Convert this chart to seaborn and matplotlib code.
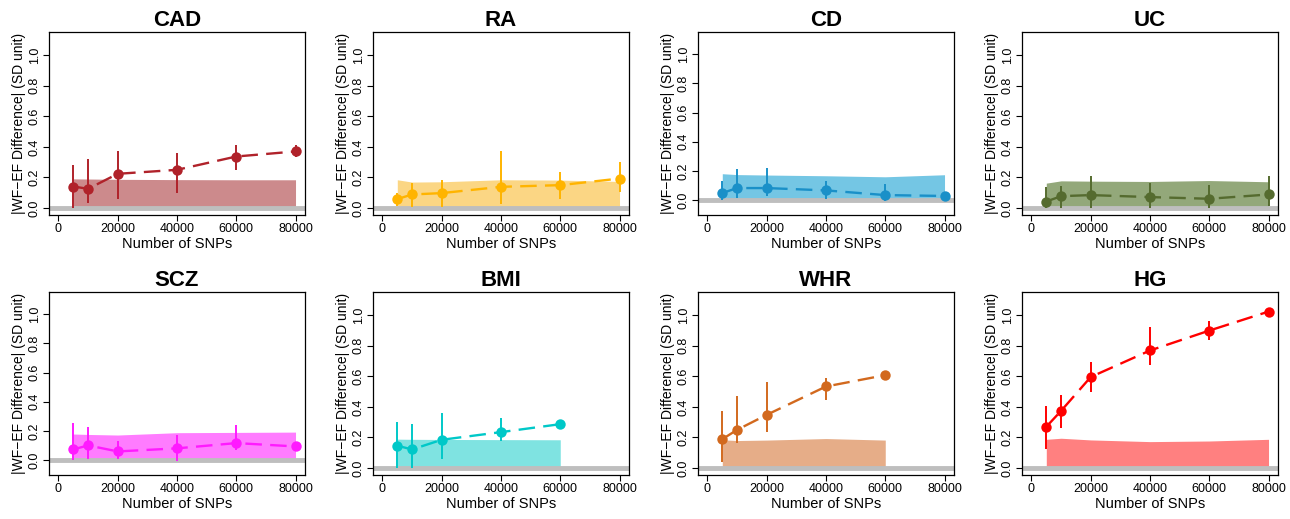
#!/usr/bin/env python3

import numpy as np
import pandas as pd
import matplotlib
matplotlib.use('Agg')
import matplotlib.pyplot as plt
import seaborn as sns

traits = ['CAD', 'RA', 'CD', 'UC', 'SCZ', 'BMI', 'WHR', 'HG']
colors = ['#B0222A', '#FFB400', '#1A90C8', '#556B2F', '#FF1AFF', '#00C8C8', '#D2691E', '#FF0000']
fills = ['#CC8A8C', '#FBD684', '#74C6E4', '#93A87A', '#FF7CFF', '#7FE3E1', '#E6AD88', '#FF8080']

snps_full = [5000, 10000, 20000, 40000, 60000, 80000]
snps_short = [5000, 10000, 20000, 40000, 60000]

cad_mean = [0.141, 0.126, 0.224, 0.250, 0.337, 0.370]
cad_lo = [0.000, 0.033, 0.061, 0.098, 0.250, 0.337]
cad_hi = [0.283, 0.320, 0.374, 0.363, 0.409, 0.413]
cad_band = [0.191, 0.190, 0.188, 0.186, 0.185, 0.185]

ra_mean = [0.059, 0.089, 0.098, 0.139, 0.150, 0.193]
ra_lo = [0.015, 0.010, 0.006, 0.028, 0.061, 0.104]
ra_hi = [0.098, 0.167, 0.185, 0.374, 0.239, 0.300]
ra_band = [0.185, 0.170, 0.172, 0.185, 0.183, 0.174]

cd_mean = [0.050, 0.084, 0.084, 0.068, 0.036, 0.030]
cd_lo = [0.000, 0.018, 0.030, 0.011, -0.005, 0.011]
cd_hi = [0.132, 0.216, 0.223, 0.132, 0.114, 0.052]
cd_band = [0.182, 0.176, 0.173, 0.168, 0.161, 0.175]

uc_mean = [0.043, 0.078, 0.085, 0.072, 0.061, 0.089]
uc_lo = [0.000, 0.000, 0.000, 0.000, 0.000, 0.017]
uc_hi = [0.135, 0.146, 0.211, 0.167, 0.150, 0.211]
uc_band = [0.163, 0.178, 0.176, 0.174, 0.180, 0.172]

scz_mean = [0.075, 0.102, 0.061, 0.082, 0.118, 0.095]
scz_lo = [0.000, 0.007, 0.007, -0.005, 0.068, 0.080]
scz_hi = [0.257, 0.230, 0.130, 0.170, 0.240, 0.110]
scz_band = [0.180, 0.177, 0.173, 0.189, 0.191, 0.193]

bmi_mean = [0.146, 0.122, 0.185, 0.235, 0.287]
bmi_lo = [0.000, 0.000, 0.061, 0.174, 0.254]
bmi_hi = [0.300, 0.289, 0.363, 0.324, 0.309]
bmi_band = [0.189, 0.188, 0.187, 0.186, 0.185]

whr_mean = [0.189, 0.250, 0.348, 0.533, 0.607]
whr_lo = [0.037, 0.163, 0.233, 0.446, 0.576]
whr_hi = [0.376, 0.472, 0.561, 0.587, 0.630]
whr_band = [0.185, 0.180, 0.183, 0.193, 0.183]

hg_mean = [0.270, 0.374, 0.595, 0.768, 0.898, 1.022]
hg_lo = [0.123, 0.260, 0.498, 0.671, 0.838, 1.010]
hg_hi = [0.405, 0.476, 0.693, 0.924, 0.963, 1.034]
hg_band = [0.188, 0.195, 0.184, 0.173, 0.177, 0.188]

panel_data = {
    'CAD': (snps_full, cad_mean, cad_lo, cad_hi, cad_band),
    'RA': (snps_full, ra_mean, ra_lo, ra_hi, ra_band),
    'CD': (snps_full, cd_mean, cd_lo, cd_hi, cd_band),
    'UC': (snps_full, uc_mean, uc_lo, uc_hi, uc_band),
    'SCZ': (snps_full, scz_mean, scz_lo, scz_hi, scz_band),
    'BMI': (snps_short, bmi_mean, bmi_lo, bmi_hi, bmi_band),
    'WHR': (snps_short, whr_mean, whr_lo, whr_hi, whr_band),
    'HG': (snps_full, hg_mean, hg_lo, hg_hi, hg_band),
}
# CD and SCZ were drawn with a slightly lower y floor
ylims = {t: (-0.045, 1.15) for t in traits}
ylims['CD'] = (-0.10, 1.15)
ylims['SCZ'] = (-0.10, 1.15)

sns.set_style('ticks')
plt.rcParams['font.family'] = ['Liberation Sans', 'DejaVu Sans']

fig = plt.figure(figsize=(12.9, 5.19), dpi=100)
W, H = 1290.0, 519.0
lefts = [49, 373, 698, 1022]
tops = [32, 292]
aw, ah = 256, 183

for i, trait in enumerate(traits):
    r, c = divmod(i, 4)
    ax = fig.add_axes([lefts[c] / W, 1 - (tops[r] + ah) / H, aw / W, ah / H])
    x, m, lo, hi, band = panel_data[trait]
    df = pd.DataFrame({'snps': x, 'diff': m, 'lo': lo, 'hi': hi, 'band': band})

    ax.fill_between(df['snps'], 0, df['band'], color=fills[i], lw=0, zorder=1)
    ax.axhline(0, color='#BEBEBE', lw=3.5, zorder=2)
    ax.vlines(df['snps'], df['lo'], df['hi'], color=colors[i], lw=1.4, zorder=3)
    sns.lineplot(data=df, x='snps', y='diff', ax=ax, color=colors[i], lw=1.7,
                 marker='o', markersize=7.5, markeredgewidth=0,
                 dashes=False, zorder=4)
    ax.lines[-1].set_dashes([7, 3.5])

    ax.set_xlim(-3200, 83200)
    ax.set_ylim(*ylims[trait])
    ax.set_xticks([0, 20000, 40000, 60000, 80000])
    ax.set_yticks([0.0, 0.2, 0.4, 0.6, 0.8, 1.0])
    ax.set_yticklabels(['0.0', '0.2', '0.4', '0.6', '0.8', '1.0'], rotation=90, va='center')
    ax.tick_params(axis='both', direction='out', length=4, width=0.8, labelsize=9,
                   colors='black', pad=2)
    for s in ax.spines.values():
        s.set_visible(True)
        s.set_linewidth(0.9)
        s.set_color('black')
    ax.set_title(trait, fontsize=16, fontweight='bold', pad=4, color='black')
    ax.set_xlabel('Number of SNPs', fontsize=10.5, labelpad=1, color='black')
    ax.set_ylabel('|WF\u2212EF Difference| (SD unit)', fontsize=10, labelpad=2, color='black')

fig.savefig('out.png', dpi=100)
